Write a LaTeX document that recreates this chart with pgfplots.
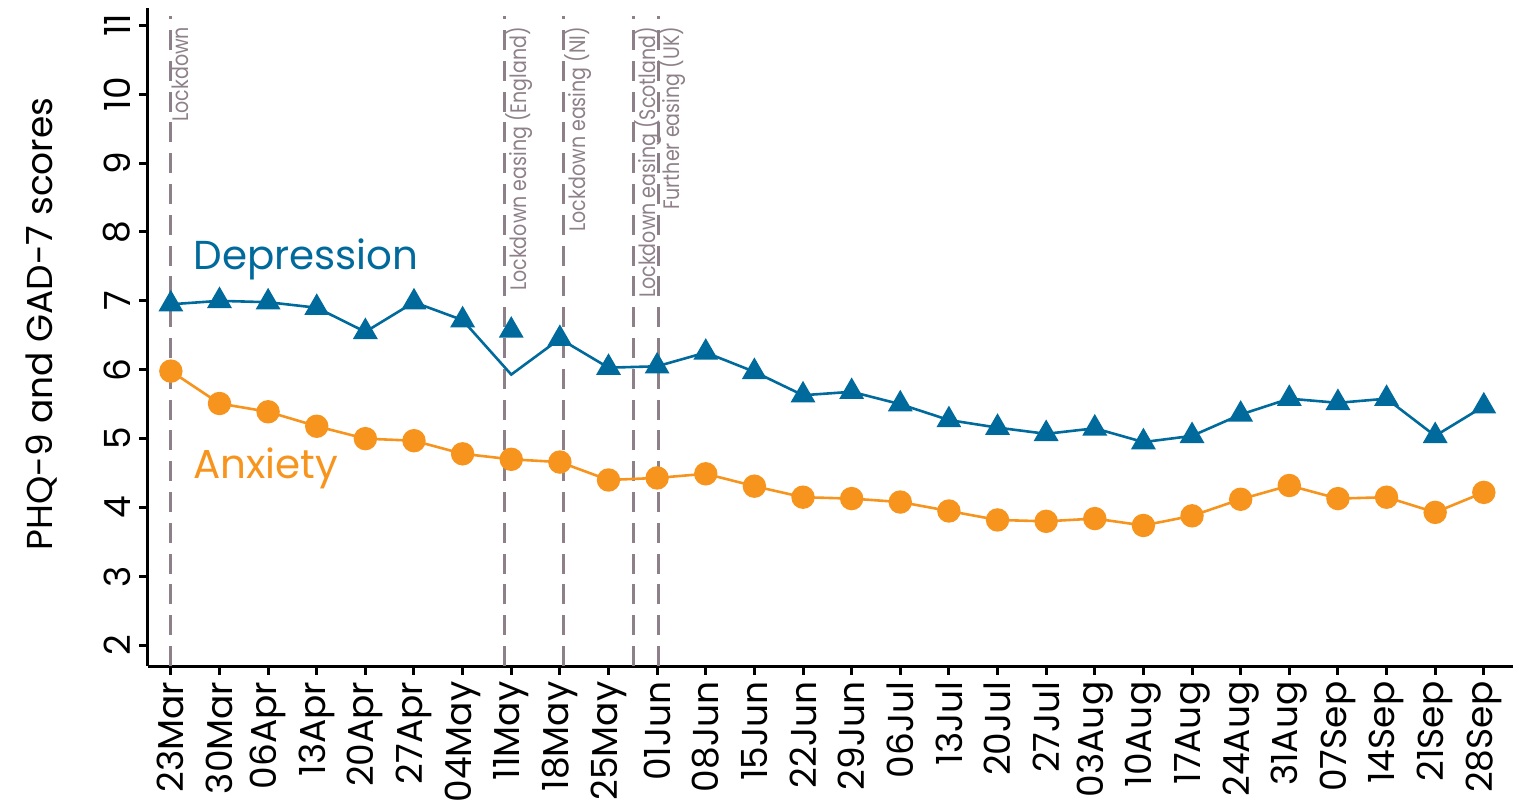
\documentclass[border=0pt]{standalone}
\usepackage{fontspec}
\setmainfont{Poppins}
\newfontfamily\annfont[FakeStretch=0.85]{Poppins}
\usepackage{pgfplots}
\usepackage{pgfplotstable}
\pgfplotsset{compat=1.18}

\definecolor{dep}{HTML}{006A9C}
\definecolor{anx}{HTML}{F7941D}
\definecolor{evt}{HTML}{8E8088}

\pgfplotstableread{
x dep anx
0 6.95 5.98
1 7.00 5.51
2 6.98 5.39
3 6.90 5.18
4 6.55 5.00
5 6.98 4.97
6 6.72 4.78
7 5.93 4.70
8 6.45 4.66
9 6.03 4.40
10 6.05 4.43
11 6.25 4.49
12 5.97 4.31
13 5.63 4.15
14 5.68 4.13
15 5.50 4.08
16 5.27 3.95
17 5.16 3.82
18 5.07 3.80
19 5.15 3.84
20 4.95 3.74
21 5.04 3.88
22 5.35 4.12
23 5.58 4.32
24 5.52 4.13
25 5.58 4.15
26 5.04 3.93
27 5.47 4.22
}\data

\pgfplotstableread{
x dep
0 6.95
1 7.00
2 6.98
3 6.90
4 6.55
5 6.98
6 6.72
7 6.57
8 6.45
9 6.03
10 6.05
11 6.25
12 5.97
13 5.63
14 5.68
15 5.50
16 5.27
17 5.16
18 5.07
19 5.15
20 4.95
21 5.04
22 5.35
23 5.58
24 5.52
25 5.58
26 5.04
27 5.47
}\depmarks

\begin{document}
\begin{tikzpicture}
\begin{axis}[
  scale only axis,
  width=341.25pt, height=164.5pt,
  xmin=-0.47, xmax=27.6,
  ymin=1.70, ymax=11.25,
  axis lines=left,
  axis line style={line width=0.75pt, -},
  clip=false,
  xtick={0,...,27},
  xticklabels={23Mar,30Mar,06Apr,13Apr,20Apr,27Apr,04May,11May,18May,25May,01Jun,08Jun,15Jun,22Jun,29Jun,06Jul,13Jul,20Jul,27Jul,03Aug,10Aug,17Aug,24Aug,31Aug,07Sep,14Sep,21Sep,28Sep},
  ytick={2,...,11},
  tick align=outside,
  major tick length=2.2pt,
  tick style={line width=0.75pt, black},
  xticklabel style={rotate=90, anchor=east, font=\fontsize{9}{10}\selectfont, inner sep=1.5pt},
  yticklabel style={rotate=90, anchor=south, font=\fontsize{9}{10}\selectfont, inner sep=2pt},
  /pgf/number format/assume math mode=true,
  ylabel={PHQ-9 and GAD-7 scores},
  ylabel style={font=\fontsize{9}{10}\selectfont},
  every axis y label/.append style={at={(ticklabel cs:0.52)}, yshift=6pt},
]
% event lines
\addplot[evt, line width=0.75pt, dash pattern=on 5pt off 2.7pt, forget plot] coordinates {(0,1.70) (0,11.13)};
\addplot[evt, line width=0.75pt, dash pattern=on 5pt off 2.7pt, forget plot] coordinates {(6.86,1.70) (6.86,11.13)};
\addplot[evt, line width=0.75pt, dash pattern=on 5pt off 2.7pt, forget plot] coordinates {(8.08,1.70) (8.08,11.13)};
\addplot[evt, line width=0.75pt, dash pattern=on 5pt off 2.7pt, forget plot] coordinates {(9.52,1.70) (9.52,11.13)};
\addplot[evt, line width=0.75pt, dash pattern=on 5pt off 2.7pt, forget plot] coordinates {(10.02,1.70) (10.02,11.13)};

\begin{scope}[every node/.style={evt, rotate=90, anchor=north east, inner sep=0pt, font=\annfont\fontsize{5.6}{6.5}\selectfont}]
\node[xshift=1.5pt] at (axis cs:0,10.9) {Lockdown};
\node[xshift=1.5pt] at (axis cs:6.86,10.9) {Lockdown easing (England)};
\node[xshift=1.5pt] at (axis cs:8.08,10.9) {Lockdown easing (NI)};
\node[xshift=1.5pt] at (axis cs:9.52,10.9) {Lockdown easing (Scotland)};
\node[xshift=1.5pt] at (axis cs:10.02,10.9) {Further easing (UK)};
\end{scope}

% series
\addplot[dep, line width=0.65pt, no markers] table[x=x, y=dep] {\data};
\addplot[dep, only marks, mark=triangle*, mark size=3.2pt] table[x=x, y=dep] {\depmarks};
\addplot[anx, line width=0.65pt, mark=*, mark size=2.6pt] table[x=x, y=anx] {\data};

\node[dep, anchor=base west, inner sep=0pt, font=\fontsize{10.1}{12}\selectfont] at (axis cs:0.45,7.45) {Depression};
\node[anx, anchor=base west, inner sep=0pt, font=\fontsize{10.1}{12}\selectfont] at (axis cs:0.45,4.42) {Anxiety};

\coordinate (SW) at (rel axis cs:0,0);
\coordinate (NE) at (rel axis cs:1,1);
\end{axis}
\pgfresetboundingbox
\path[use as bounding box] ([shift={(-37pt,-36.25pt)}]SW) rectangle ([shift={(5.75pt,2pt)}]NE);
\end{tikzpicture}
\end{document}
